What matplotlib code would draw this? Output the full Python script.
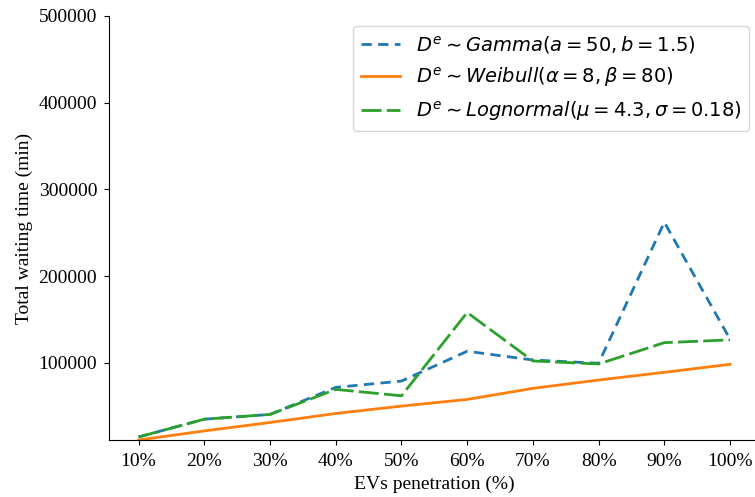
import numpy as np
import matplotlib
matplotlib.use('Agg')
import matplotlib.pyplot as plt

penetration = ['10%', '20%', '30%', '40%', '50%', '60%', '70%', '80%', '90%', '100%']
gamma_wait = [14300, 34800, 40300, 71500, 78800, 113200, 103100, 99300, 262000, 127100]
weibull_wait = [10800, 21300, 31000, 41400, 49900, 57600, 70400, 80000, 88900, 98100]
lognorm_wait = [14300, 34800, 40300, 69200, 61800, 157900, 102000, 98500, 123100, 126300]

plt.rcParams['font.family'] = ['Liberation Serif', 'DejaVu Serif']
plt.rcParams['mathtext.fontset'] = 'dejavusans'

fig = plt.figure(figsize=(7.55, 4.97), dpi=100)
ax = fig.add_axes([109 / 755, 57 / 497, 650.6 / 755, 424 / 497])

x = np.arange(len(penetration))
ax.plot(x, gamma_wait, color='#1f77b4', lw=2, dashes=(3.7, 2.3),
        label=r'$D^e \sim Gamma(a=50, b=1.5)$')
ax.plot(x, weibull_wait, color='#ff7f0e', lw=2, ls='-',
        label=r'$D^e \sim Weibull(\alpha=8, \beta=80)$')
ax.plot(x, lognorm_wait, color='#2ca02c', lw=2, dashes=(7.2, 1.9),
        label=r'$D^e \sim Lognormal(\mu=4.3, \sigma=0.18)$')

ax.set_xticks(x)
ax.set_xticklabels(penetration)
ax.set_xlim(-0.45, 9.45)
ax.set_ylim(min(weibull_wait), 500000)
ax.set_yticks([100000, 200000, 300000, 400000, 500000])
ax.tick_params(axis='x', labelsize=14, pad=6)
ax.tick_params(axis='y', labelsize=14, pad=5)
ax.spines['top'].set_visible(False)
ax.spines['right'].set_visible(False)
ax.set_xlabel('EVs penetration (%)', fontsize=14)
ax.set_ylabel('Total waiting time (min)', fontsize=14)

# legend keeps the default sans font for the mathtext labels
leg = ax.legend(loc='upper right', prop={'family': 'DejaVu Sans', 'size': 14},
                bbox_to_anchor=(749 / 755, 1 - 26 / 497),
                bbox_transform=fig.transFigure, borderaxespad=0)

fig.savefig('out.png', dpi=100)
